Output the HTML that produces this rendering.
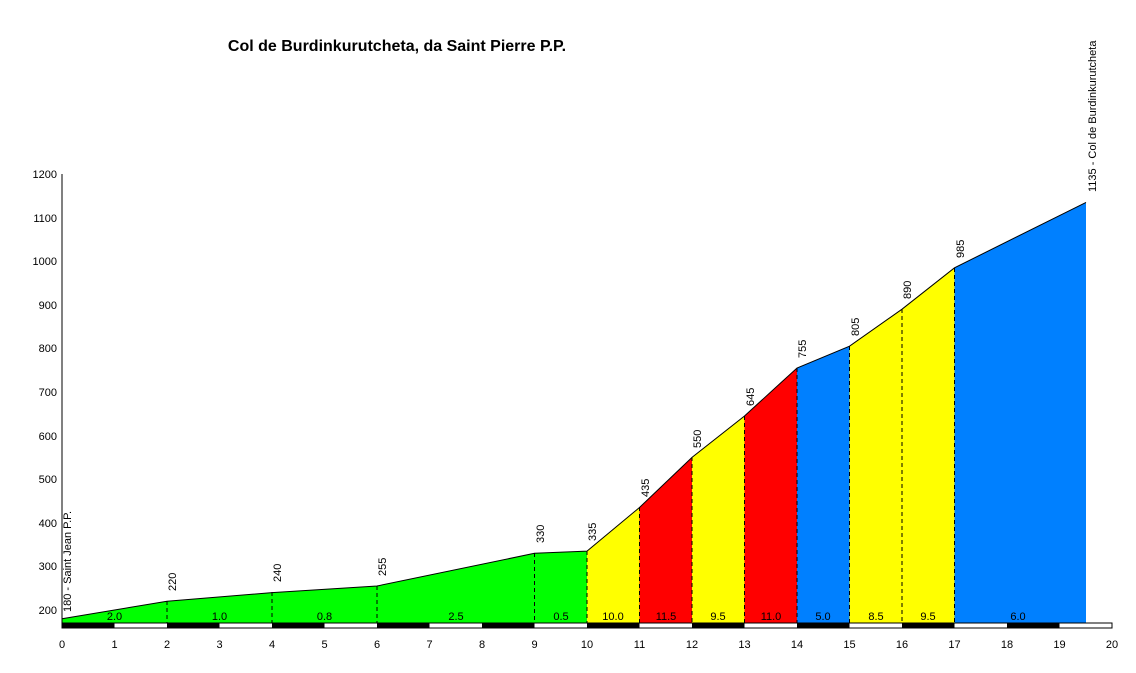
<!DOCTYPE html>
<html><head><meta charset="utf-8"><style>
html,body{margin:0;padding:0;background:#fff}
svg{display:block;font-family:"Liberation Sans",Arial,sans-serif}
</style></head><body>
<svg width="1136" height="673" viewBox="0 0 1136 673" xmlns="http://www.w3.org/2000/svg">
<rect width="1136" height="673" fill="#fff"/>
<text x="397" y="51" font-size="16" font-weight="bold" text-anchor="middle">Col de Burdinkurutcheta, da Saint Pierre P.P.</text>
<g stroke="none">
<polygon fill="#00ff00" points="62,623 62,618.7 167,601.3 272,592.6 377,586 534.5,553.3 587,551.1 587,623"/>
<polygon fill="#ffff00" points="587,623 587,551.1 639.5,507.5 639.5,623"/>
<polygon fill="#ff0000" points="639.5,623 639.5,507.5 692,457.4 692,623"/>
<polygon fill="#ffff00" points="692,623 692,457.4 744.5,416 744.5,623"/>
<polygon fill="#ff0000" points="744.5,623 744.5,416 797,368 797,623"/>
<polygon fill="#0080ff" points="797,623 797,368 849.5,346.2 849.5,623"/>
<polygon fill="#ffff00" points="849.5,623 849.5,346.2 902,309.2 954.5,267.8 954.5,623"/>
<polygon fill="#0080ff" points="954.5,623 954.5,267.8 1086,202.4 1086,623"/>
</g>
<polyline fill="none" stroke="#000" stroke-width="1" points="62,618.7 167,601.3 272,592.6 377,586 534.5,553.3 587,551.1 639.5,507.5 692,457.4 744.5,416 797,368 849.5,346.2 902,309.2 954.5,267.8 1086,202.4"/>
<g stroke="#000" stroke-dasharray="4,3" stroke-width="1">
<line x1="167" y1="601" x2="167" y2="623"/><line x1="272" y1="592" x2="272" y2="623"/>
<line x1="377" y1="586" x2="377" y2="623"/><line x1="534.5" y1="553" x2="534.5" y2="623"/>
<line x1="587" y1="551" x2="587" y2="623"/><line x1="639.5" y1="507" x2="639.5" y2="623"/>
<line x1="692" y1="457" x2="692" y2="623"/><line x1="744.5" y1="416" x2="744.5" y2="623"/>
<line x1="797" y1="368" x2="797" y2="623"/><line x1="849.5" y1="346" x2="849.5" y2="623"/>
<line x1="902" y1="309" x2="902" y2="623"/><line x1="954.5" y1="268" x2="954.5" y2="623"/>
</g>
<g font-size="11" text-anchor="middle" fill="#000">
<text x="114.5" y="620">2.0</text><text x="219.5" y="620">1.0</text><text x="324.5" y="620">0.8</text>
<text x="456" y="620">2.5</text><text x="561" y="620">0.5</text><text x="613" y="620">10.0</text>
<text x="666" y="620">11.5</text><text x="718" y="620">9.5</text><text x="771" y="620">11.0</text>
<text x="823" y="620">5.0</text><text x="876" y="620">8.5</text><text x="928" y="620">9.5</text>
<text x="1018" y="620">6.0</text>
</g>
<rect x="62" y="623" width="1050" height="5" fill="#fff" stroke="#000" stroke-width="1"/>
<g fill="#000">
<rect x="62" y="623" width="52.5" height="5"/><rect x="167" y="623" width="52.5" height="5"/>
<rect x="272" y="623" width="52.5" height="5"/><rect x="377" y="623" width="52.5" height="5"/>
<rect x="482" y="623" width="52.5" height="5"/><rect x="587" y="623" width="52.5" height="5"/>
<rect x="692" y="623" width="52.5" height="5"/><rect x="797" y="623" width="52.5" height="5"/>
<rect x="902" y="623" width="52.5" height="5"/><rect x="1007" y="623" width="52.5" height="5"/>
</g>
<line x1="62" y1="174" x2="62" y2="628" stroke="#000"/>
<g font-size="11" text-anchor="end">
<text x="57" y="614">200</text><text x="57" y="570">300</text><text x="57" y="527">400</text>
<text x="57" y="483">500</text><text x="57" y="440">600</text><text x="57" y="396">700</text>
<text x="57" y="352">800</text><text x="57" y="309">900</text><text x="57" y="265">1000</text>
<text x="57" y="222">1100</text><text x="57" y="178">1200</text>
</g>
<g font-size="11" text-anchor="middle">
<text x="62" y="648">0</text><text x="114.5" y="648">1</text><text x="167" y="648">2</text>
<text x="219.5" y="648">3</text><text x="272" y="648">4</text><text x="324.5" y="648">5</text>
<text x="377" y="648">6</text><text x="429.5" y="648">7</text><text x="482" y="648">8</text>
<text x="534.5" y="648">9</text><text x="587" y="648">10</text><text x="639.5" y="648">11</text>
<text x="692" y="648">12</text><text x="744.5" y="648">13</text><text x="797" y="648">14</text>
<text x="849.5" y="648">15</text><text x="902" y="648">16</text><text x="954.5" y="648">17</text>
<text x="1007" y="648">18</text><text x="1059.5" y="648">19</text><text x="1112" y="648">20</text>
</g>
<g font-size="11">
<text transform="translate(71,612) rotate(-90)">180 - Saint Jean P.P.</text>
<text transform="translate(176,591) rotate(-90)">220</text>
<text transform="translate(281,582) rotate(-90)">240</text>
<text transform="translate(386,576) rotate(-90)">255</text>
<text transform="translate(544,543) rotate(-90)">330</text>
<text transform="translate(596,541) rotate(-90)">335</text>
<text transform="translate(649,497) rotate(-90)">435</text>
<text transform="translate(701,448) rotate(-90)">550</text>
<text transform="translate(754,406) rotate(-90)">645</text>
<text transform="translate(806,358) rotate(-90)">755</text>
<text transform="translate(859,336) rotate(-90)">805</text>
<text transform="translate(911,299) rotate(-90)">890</text>
<text transform="translate(964,258) rotate(-90)">985</text>
<text transform="translate(1096,192) rotate(-90)">1135 - Col de Burdinkurutcheta</text>
</g>
</svg>
</body></html>
